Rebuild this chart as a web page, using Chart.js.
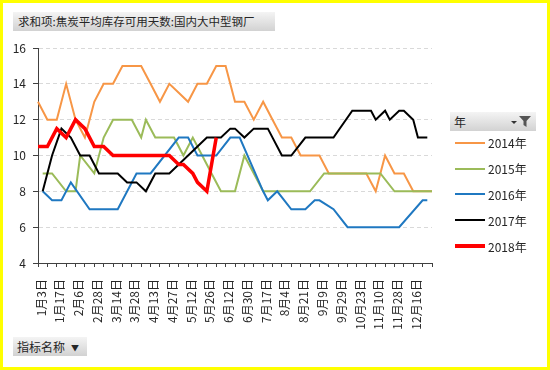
<!DOCTYPE html>
<html lang="zh">
<head>
<meta charset="UTF-8">
<title>焦炭平均库存可用天数</title>
<script src="https://cdn.jsdelivr.net/npm/chart.js"></script>
<style>
  html, body { margin: 0; padding: 0; background: #fff; }
  #wrap { position: relative; width: 550px; height: 370px; overflow: hidden; font-family: "Noto Sans CJK SC", "Noto Sans", sans-serif; }
  #c { position: absolute; left: 0; top: 0; }
  .frame { position: absolute; left: 0; top: 0; width: 550px; height: 370px; box-sizing: border-box; border: 3px solid #ffff00; pointer-events: none; }
  .btn {
    position: absolute; box-sizing: border-box; height: 19px;
    background: linear-gradient(#f4f4f4, #d2d2d2);
    color: #262626; font-size: 11.5px; line-height: 19px; white-space: nowrap;
  }
  #title { left: 13px; top: 12px; width: 262px; padding-left: 5px; }
  #field { left: 13px; top: 337px; width: 74px; padding-left: 4px; font-size: 12px; }
  #field .tri { display: inline-block; margin-left: 6px; font-size: 8px; vertical-align: 1px; }
  #yearBtn { left: 450px; top: 112px; width: 86px; padding-left: 4px; font-size: 12px; }
  #yearBtn svg { position: absolute; right: 4px; top: 3px; }
  #legend { position: absolute; left: 455px; top: 130px; }
  .item { height: 25.8px; display: flex; align-items: center; font-size: 12px; color: #262626; }
  .item span.line { display: inline-block; width: 30px; margin-right: 3px; }
</style>
</head>
<body>
<div id="wrap">
  <canvas id="c" width="550" height="370"></canvas>
  <div class="btn" id="title">求和项:焦炭平均库存可用天数:国内大中型钢厂</div>
  <div class="btn" id="yearBtn">年
    <svg width="22" height="13" viewBox="0 0 22 13"><path d="M1 6 L7 6 L4 9 Z" fill="#333"/><path d="M9 1 L21 1 L16.5 6 L16.5 12 L13.5 10 L13.5 6 Z" fill="#555"/></svg>
  </div>
  <div id="legend"></div>
  <div class="btn" id="field">指标名称<span class="tri">▼</span></div>
  <div class="frame"></div>
</div>
<script>
// visible date labels, one every 4 categories
const tickLabels = ['1月3日', '1月17日', '2月6日', '2月28日', '3月14日', '3月28日', '4月13日',
  '4月27日', '5月12日', '5月26日', '6月12日', '6月30日', '7月17日', '8月4日', '8月21日',
  '9月9日', '9月29日', '10月23日', '11月10日', '11月28日', '12月16日'];

const seriesNames = ['2014年', '2015年', '2016年', '2017年', '2018年'];
const seriesColors = ['#f79646', '#9bbb59', '#1f78c1', '#000000', '#ff0000'];

// category index -> value
const pos2014 = [0, 2, 4, 6, 8, 10, 12, 14, 16, 18, 20, 22, 24, 26, 28, 30, 32, 34, 36, 38, 40, 42,
  44, 46, 48, 50, 52, 54, 56, 58, 60, 62, 64, 66, 68, 70, 72, 74, 76, 78, 80, 82, 84];
const val2014 = [13, 12, 12, 14, 12, 11, 13, 14, 14, 15, 15, 15, 14, 13, 14, 13.5, 13, 14, 14, 15, 15, 13,
  13, 12, 13, 12, 11, 11, 10, 10, 10, 9, 9, 9, 9, 9, 8, 10, 9, 9, 8, 8, 8];

const pos2015 = [1, 3, 6, 8, 9, 12, 14, 16, 20, 22, 23, 25, 29, 31, 33, 35, 37, 39, 42, 44, 48, 52, 58, 61, 67, 73, 76, 80, 84];
const val2015 = [9, 9, 8, 8, 10, 9, 11, 12, 12, 11, 12, 11, 11, 10, 11, 10, 9, 8, 8, 10, 8, 8, 8, 9, 9, 9, 8, 8, 8];

const pos2016 = [1, 3, 5, 7, 11, 17, 21, 24, 30, 32, 34, 38, 41, 43, 48, 49, 51, 54, 57, 59, 60, 63, 66, 77, 82, 83];
const val2016 = [8, 7.5, 7.5, 8.5, 7, 7, 9, 9, 11, 11, 10, 10, 11, 11, 8, 7.5, 8, 7, 7, 7.5, 7.5, 7, 6, 6, 7.5, 7.5];

const pos2017 = [1, 3, 5, 7, 9, 11, 13, 17, 19, 21, 23, 25, 28, 36, 39, 41, 42, 44, 46, 49, 52, 54, 57, 63,
  67, 71, 72, 74, 75, 77, 78, 80, 81, 83];
const val2017 = [8, 10, 11.5, 11, 10, 10, 9, 9, 8.5, 8.5, 8, 9, 9, 11, 11, 11.5, 11.5, 11, 11.5, 11.5, 10, 10, 11, 11,
  12.5, 12.5, 12, 12.5, 12, 12.5, 12.5, 12, 11, 11];

const pos2018 = [0, 2, 4, 6, 8, 10, 12, 14, 16, 18, 20, 22, 24, 26, 28, 30, 31, 33, 34, 36, 38];
const val2018 = [10.5, 10.5, 11.5, 11, 12, 11.5, 10.5, 10.5, 10, 10, 10, 10, 10, 10, 10, 9.5, 9.5, 9, 8.5, 8, 11];

const yTicks = [4, 6, 8, 10, 12, 14, 16];

// build the full category list: each visible label followed by three unlabeled dates
const labels = [];
tickLabels.forEach(t => { labels.push(t, '', '', ''); });
labels.push('');

function build(pos, val) {
  const arr = labels.map(() => null);
  pos.forEach((p, k) => { arr[p] = val[k]; });
  return arr;
}

const positions = [pos2014, pos2015, pos2016, pos2017, pos2018];
const values = [val2014, val2015, val2016, val2017, val2018];

const datasets = seriesNames.map((name, k) => ({
  label: name,
  data: build(positions[k], values[k]),
  borderColor: seriesColors[k],
  backgroundColor: seriesColors[k],
  borderWidth: k === 4 ? 3.5 : 2,
  pointRadius: 0,
  spanGaps: true,
  tension: 0,
  fill: false,
  order: seriesNames.length - k
}));

// html legend
const legend = document.getElementById('legend');
seriesNames.forEach((name, k) => {
  const row = document.createElement('div');
  row.className = 'item';
  const ln = document.createElement('span');
  ln.className = 'line';
  ln.style.height = (k === 4 ? 4 : 2) + 'px';
  ln.style.background = seriesColors[k];
  row.appendChild(ln);
  row.appendChild(document.createTextNode(name));
  legend.appendChild(row);
});

const fam = '"Noto Sans CJK SC", "Noto Sans", sans-serif';

new Chart(document.getElementById('c'), {
  type: 'line',
  data: { labels: labels, datasets: datasets },
  options: {
    responsive: false,
    animation: false,
    devicePixelRatio: 1,
    layout: { padding: { left: 0, top: 48, right: 118, bottom: 0 } },
    plugins: { legend: { display: false }, tooltip: { enabled: false } },
    scales: {
      x: {
        offset: false,
        grid: {
          drawOnChartArea: false,
          tickLength: 4,
          tickColor: ctx => (ctx.index % 2 === 0 ? '#404040' : 'rgba(0,0,0,0)')
        },
        border: { color: '#404040', width: 1 },
        ticks: {
          autoSkip: false,
          minRotation: 90,
          maxRotation: 90,
          padding: 12,
          labelOffset: 3,
          color: '#262626',
          font: { family: fam, size: 12 },
          callback: (v, i) => labels[i]
        },
        afterFit: s => { s.height = 107; }
      },
      y: {
        min: 4,
        max: 16,
        afterBuildTicks: s => { s.ticks = yTicks.map(v => ({ value: v })); },
        grid: { color: '#d9d9d9', tickLength: 5, tickColor: '#404040' },
        border: { color: '#404040', width: 1, dash: [4, 3] },
        ticks: { padding: 7, color: '#262626', font: { family: fam, size: 12 } },
        afterFit: s => { s.width = 38; }
      }
    }
  }
});
</script>
</body>
</html>
